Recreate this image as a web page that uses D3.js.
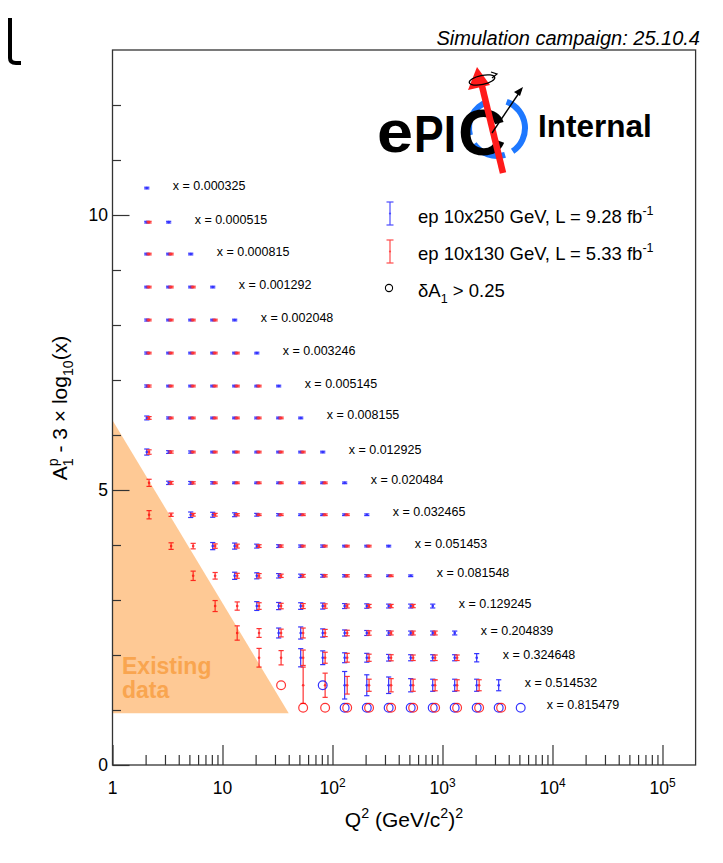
<!DOCTYPE html>
<html>
<head>
<meta charset="utf-8">
<script src="https://cdn.jsdelivr.net/npm/d3@7"></script>
<style>
  body { margin: 0; background: #fff; }
  text { font-family: "Liberation Sans", Arial, Helvetica, sans-serif; }
</style>
</head>
<body>
<svg id="chart"></svg>
<script>
// x bins (one row each), plotted value A1 - 3 log10(x) per row
var xLabels = ["0.000325", "0.000515", "0.000815", "0.001292", "0.002048", "0.003246",
  "0.005145", "0.008155", "0.012925", "0.020484", "0.032465", "0.051453",
  "0.081548", "0.129245", "0.204839", "0.324648", "0.514532", "0.815479"];
var rowY = [10.49, 9.87, 9.29, 8.69, 8.09, 7.49, 6.89, 6.31, 5.69, 5.13, 4.55, 3.98,
  3.44, 2.89, 2.40, 1.95, 1.45, 1.04];

// Q2 bin centres for each beam setting
var q2Blue = [2.05, 3.24, 5.14, 8.15, 12.9, 20.5, 32.4, 51.4, 81.5, 129, 205, 324, 514, 815, 1291, 2046, 3243, 5140];
var q2Red = [2.15, 3.41, 5.41, 8.57, 13.6, 21.5, 34.1, 54.1, 85.7, 136, 215, 341, 541, 857, 1358, 2153, 3412, 5408];

// ep 10x250: first Q2 column per row, then errors ("o" = dA1 > 0.25)
var blueStart = [0, 0, 0, 0, 0, 0, 0, 0, 0, 1, 2, 3, 4, 5, 6, 7, 8, 9];
var blueErr = [
  [0.015],
  [0.015, 0.015],
  [0.015, 0.015, 0.015],
  [0.015, 0.015, 0.015, 0.015],
  [0.018, 0.015, 0.015, 0.015, 0.015],
  [0.018, 0.015, 0.015, 0.015, 0.015, 0.015],
  [0.02, 0.015, 0.015, 0.015, 0.015, 0.015, 0.015],
  [0.035, 0.018, 0.015, 0.015, 0.015, 0.015, 0.015, 0.015],
  [0.055, 0.025, 0.02, 0.015, 0.015, 0.015, 0.015, 0.015, 0.015],
  [0.03, 0.025, 0.02, 0.015, 0.015, 0.015, 0.015, 0.015, 0.015],
  [0.05, 0.045, 0.035, 0.025, 0.02, 0.015, 0.015, 0.015, 0.015],
  [0.065, 0.055, 0.035, 0.025, 0.02, 0.02, 0.015, 0.015, 0.015],
  [0.065, 0.055, 0.04, 0.03, 0.025, 0.02, 0.02, 0.015, 0.015],
  [0.08, 0.065, 0.06, 0.055, 0.045, 0.04, 0.035, 0.035, 0.035],
  [0.09, 0.11, 0.075, 0.055, 0.045, 0.04, 0.035, 0.035, 0.035],
  [0.165, 0.125, 0.09, 0.08, 0.06, 0.055, 0.055, 0.055, 0.075],
  ["o", 0.25, 0.19, 0.15, 0.12, 0.11, 0.11, 0.11, 0.1],
  ["o", "o", "o", "o", "o", "o", "o", "o", "o"]
];

// ep 10x130
var redStart = [0, 0, 0, 0, 0, 0, 0, 0, 0, 0, 0, 1, 2, 3, 4, 5, 6, 7];
var redErr = [
  [],
  [0.015],
  [0.015, 0.015],
  [0.015, 0.015, 0.015],
  [0.015, 0.015, 0.015, 0.015],
  [0.015, 0.015, 0.015, 0.015, 0.015],
  [0.018, 0.015, 0.015, 0.015, 0.015, 0.015],
  [0.025, 0.015, 0.015, 0.015, 0.015, 0.015, 0.015],
  [0.04, 0.02, 0.015, 0.015, 0.015, 0.015, 0.015, 0.015],
  [0.065, 0.025, 0.02, 0.015, 0.015, 0.015, 0.015, 0.015, 0.015],
  [0.075, 0.03, 0.025, 0.025, 0.02, 0.015, 0.015, 0.015, 0.015, 0.015],
  [0.06, 0.05, 0.04, 0.035, 0.025, 0.02, 0.015, 0.015, 0.015, 0.015],
  [0.085, 0.06, 0.045, 0.04, 0.03, 0.025, 0.02, 0.02, 0.015, 0.015],
  [0.1, 0.075, 0.06, 0.05, 0.045, 0.04, 0.035, 0.03, 0.03, 0.03],
  [0.13, 0.08, 0.07, 0.09, 0.065, 0.05, 0.04, 0.035, 0.035, 0.035],
  [0.17, 0.13, 0.14, 0.1, 0.08, 0.065, 0.055, 0.05, 0.05, 0.05],
  ["o", 0.33, 0.22, 0.16, 0.11, 0.12, 0.11, 0.1, 0.1, 0.1],
  ["o", "o", "o", "o", "o", "o", "o", "o", "o", "o"]
];

// "Existing data" region corners
var existingQ2 = [1, 1, 40];
var existingY = [6.27, 0.94, 0.94];

var xMajor = [1, 10, 100, 1000, 10000, 100000];
var yMajor = [0, 5, 10];

var W = 723, H = 863;
var blue = "#0000ff", red = "#ff0000";

var svg = d3.select("#chart").attr("width", W).attr("height", H);
svg.append("rect").attr("width", W).attr("height", H).attr("fill", "#fff");

var x = d3.scaleLog().domain([1, 2e5]).range([112.5, 695.6]);
var y = d3.scaleLinear().domain([0, 13]).range([765, 50]);

// helper for sub / superscripts
function rich(t, parts, size) {
  var shift = 0;
  parts.forEach(function(p) {
    var target = p[1] == "sup" ? -0.42 * size : (p[1] == "sub" ? 0.3 * size : 0);
    var ts = t.append("tspan")
      .attr("dy", target - shift)
      .style("font-size", (p[1] == "n" ? size : size * 0.68) + "px")
      .text(p[0]);
    if (p[2]) ts.attr("dx", p[2]);
    shift = target;
  });
}

// existing data triangle
var tri = existingQ2.map(function(q, i) { return [x(q), y(existingY[i])]; });
svg.append("path")
  .attr("d", d3.line()(tri) + "Z")
  .attr("fill", "#fec995");
svg.append("text").attr("x", 122).attr("y", 674)
  .style("font-size", "23px").style("font-weight", "bold").attr("fill", "#f9a54f")
  .text("Existing");
svg.append("text").attr("x", 122).attr("y", 698)
  .style("font-size", "23px").style("font-weight", "bold").attr("fill", "#f9a54f")
  .text("data");

// axes
var axisColor = "#333";
var minorX = x.ticks().filter(function(v) { return xMajor.indexOf(v) < 0 && v < 1.9e5; });
var minorY = y.ticks(13).filter(function(v) { return yMajor.indexOf(v) < 0 && v < 13; });

var gxMinor = svg.append("g").attr("transform", "translate(0,765)")
  .call(d3.axisBottom(x).tickValues(minorX).tickSizeInner(-10).tickSizeOuter(0).tickFormat(""));
var gx = svg.append("g").attr("transform", "translate(0,765)")
  .call(d3.axisBottom(x).tickValues(xMajor).tickSizeInner(-20).tickSizeOuter(0).tickFormat(""));
var gyMinor = svg.append("g").attr("transform", "translate(112.5,0)")
  .call(d3.axisLeft(y).tickValues(minorY).tickSizeInner(-8.5).tickSizeOuter(0).tickFormat(""));
var gy = svg.append("g").attr("transform", "translate(112.5,0)")
  .call(d3.axisLeft(y).tickValues(yMajor).tickSizeInner(-17).tickSizeOuter(0).tickPadding(4.5));

[gxMinor, gx, gyMinor, gy].forEach(function(g) {
  g.select(".domain").remove();
  g.selectAll(".tick line").attr("stroke", axisColor).attr("stroke-width", 1.2);
});
gy.selectAll(".tick text").attr("fill", "#000").style("font-size", "17.5px")
  .style("font-family", "'Liberation Sans', Arial, sans-serif");

// x tick labels with powers of ten
gx.selectAll(".tick text").remove();
svg.append("g").selectAll("text").data(xMajor).join("text")
  .attr("x", function(d) { return x(d); })
  .attr("y", 794)
  .attr("text-anchor", "middle")
  .style("font-size", "17.5px")
  .each(function(d) {
    var t = d3.select(this);
    var p = Math.round(Math.log10(d));
    if (p < 2) { t.text(String(d)); return; }
    t.text("10");
    t.append("tspan").attr("dy", -7).style("font-size", "12px").text(String(p));
  });

// frame
svg.append("rect")
  .attr("x", x.range()[0]).attr("y", y.range()[1])
  .attr("width", x.range()[1] - x.range()[0]).attr("height", y.range()[0] - y.range()[1])
  .attr("fill", "none").attr("stroke", axisColor).attr("stroke-width", 1.3);

// axis titles
var xt = svg.append("text").attr("x", 404).attr("y", 827).attr("text-anchor", "middle")
  .style("font-size", "21px");
rich(xt, [["Q", "n"], ["2", "sup"], [" (GeV/c", "n"], ["2", "sup"], [")", "n"], ["2", "sup"]], 21);

var yt = svg.append("text").attr("transform", "translate(67,408) rotate(-90)")
  .attr("text-anchor", "middle").style("font-size", "21px");
rich(yt, [["A", "n"], ["1", "sub"], ["p", "sup", -8], [" - 3 \u00d7 log", "n"], ["10", "sub"], ["(x)", "n"]], 21);

// build points
function collect(start, errs, q2, color) {
  var out = [];
  errs.forEach(function(list, r) {
    list.forEach(function(e, i) {
      var c = start[r] + i;
      out.push({ q2: q2[c], v: rowY[r], err: e, color: color });
    });
  });
  return out;
}
var pts = collect(blueStart, blueErr, q2Blue, blue).concat(collect(redStart, redErr, q2Red, red));

var bars = pts.filter(function(d) { return d.err !== "o"; });
var circles = pts.filter(function(d) { return d.err === "o"; });

var gBars = svg.append("g").attr("stroke-width", 1.2).attr("opacity", 0.8);
var cap = 2.6;
bars.forEach(function(d) {
  var cx = x(d.q2), y0 = y(d.v - d.err), y1 = y(d.v + d.err);
  var g = gBars.append("g").attr("stroke", d.color);
  g.append("line").attr("x1", cx).attr("x2", cx).attr("y1", y0).attr("y2", y1);
  g.append("line").attr("x1", cx - cap).attr("x2", cx + cap).attr("y1", y0).attr("y2", y0);
  g.append("line").attr("x1", cx - cap).attr("x2", cx + cap).attr("y1", y1).attr("y2", y1);
  g.append("circle").attr("cx", cx).attr("cy", y(d.v)).attr("r", 1.3).attr("fill", d.color).attr("stroke", "none");
});

svg.append("g").selectAll("circle").data(circles).join("circle")
  .attr("cx", function(d) { return x(d.q2); })
  .attr("cy", function(d) { return y(d.v); })
  .attr("r", 4.4)
  .attr("fill", "none")
  .attr("stroke", function(d) { return d.color; })
  .attr("stroke-width", 1.2)
  .attr("opacity", 0.8);

// x bin labels
svg.append("g").selectAll("text").data(xLabels).join("text")
  .attr("x", function(d, i) { return x(q2Blue[i]) + 26; })
  .attr("y", function(d, i) { return y(rowY[i]) - 3; })
  .attr("dy", "0.36em")
  .style("font-size", "12.5px")
  .text(function(d) { return "x = " + d; });

// legend
function legendBar(cx, cy, color) {
  var g = svg.append("g").attr("stroke", color).attr("stroke-width", 1.2).attr("opacity", 0.7);
  g.append("line").attr("x1", cx).attr("x2", cx).attr("y1", cy - 11.5).attr("y2", cy + 11.5);
  g.append("line").attr("x1", cx - 3.5).attr("x2", cx + 3.5).attr("y1", cy - 11.5).attr("y2", cy - 11.5);
  g.append("line").attr("x1", cx - 3.5).attr("x2", cx + 3.5).attr("y1", cy + 11.5).attr("y2", cy + 11.5);
  g.append("circle").attr("cx", cx).attr("cy", cy).attr("r", 1.1).attr("fill", color).attr("stroke", "none");
}
legendBar(390, 213.5, blue);
legendBar(390, 251.5, red);
svg.append("circle").attr("cx", 389).attr("cy", 288).attr("r", 3.6)
  .attr("fill", "none").attr("stroke", "#000").attr("stroke-width", 1.1);

var l1 = svg.append("text").attr("x", 418).attr("y", 223).style("font-size", "18.5px");
rich(l1, [["ep 10x250 GeV, L = 9.28 fb", "n"], ["-1", "sup"]], 18.5);
var l2 = svg.append("text").attr("x", 418).attr("y", 260).style("font-size", "18.5px");
rich(l2, [["ep 10x130 GeV, L = 5.33 fb", "n"], ["-1", "sup"]], 18.5);
var l3 = svg.append("text").attr("x", 418).attr("y", 297).style("font-size", "18.5px");
rich(l3, [["\u03b4A", "n"], ["1", "sub"], [" > 0.25", "n"]], 18.5);

// campaign tag
svg.append("text").attr("x", 700).attr("y", 45).attr("text-anchor", "end")
  .style("font-size", "20px").style("font-style", "italic")
  .text("Simulation campaign: 25.10.4");

// ePIC logo
var logo = svg.append("g");
var ring = d3.arc().innerRadius(25).outerRadius(31);
[[0.35, 2.55], [2.85, 4.1], [4.45, 5.95]].forEach(function(a) {
  logo.append("path").attr("transform", "translate(497,128)")
    .attr("d", ring({ startAngle: a[0], endAngle: a[1] }))
    .attr("fill", "#1e78ff");
});
logo.append("text").attr("x", 377).attr("y", 152)
  .attr("textLength", 36).attr("lengthAdjust", "spacingAndGlyphs")
  .style("font-size", "60px").style("font-weight", "bold").text("e");
logo.append("text").attr("x", 414).attr("y", 152)
  .attr("textLength", 42).attr("lengthAdjust", "spacingAndGlyphs")
  .style("font-size", "51px").style("font-weight", "bold").text("PI");
logo.append("text").attr("x", 458).attr("y", 155)
  .attr("textLength", 48).attr("lengthAdjust", "spacingAndGlyphs")
  .style("font-size", "64px").style("font-weight", "bold").text("C");
// red spin arrow
logo.append("line").attr("x1", 503).attr("y1", 173).attr("x2", 482).attr("y2", 86)
  .attr("stroke", "#ff1a1a").attr("stroke-width", 6.5);
logo.append("path").attr("d", "M477,67 L468,90 L490,85 Z").attr("fill", "#ff1a1a");
// spin ellipse
logo.append("ellipse").attr("cx", 482).attr("cy", 80).attr("rx", 13).attr("ry", 4.5)
  .attr("transform", "rotate(-12,482,80)")
  .attr("fill", "none").attr("stroke", "#000").attr("stroke-width", 1.3);
logo.append("path").attr("d", "M491,72 L497,74 L492,78").attr("fill", "none").attr("stroke", "#000").attr("stroke-width", 1.2);
// black momentum arrow
logo.append("line").attr("x1", 492).attr("y1", 133).attr("x2", 521).attr("y2", 90)
  .attr("stroke", "#000").attr("stroke-width", 1.4);
logo.append("path").attr("d", "M523,87 L514,92 L520,96 Z").attr("fill", "#000");
logo.append("text").attr("x", 538).attr("y", 137).style("font-size", "31.5px").style("font-weight", "bold").text("Internal");

// stray glyph at top-left corner of the capture
svg.append("path").attr("d", "M10,18 L10,58 Q10,63 16,63 L21,63")
  .attr("fill", "none").attr("stroke", "#000").attr("stroke-width", 4);
</script>
</body>
</html>
